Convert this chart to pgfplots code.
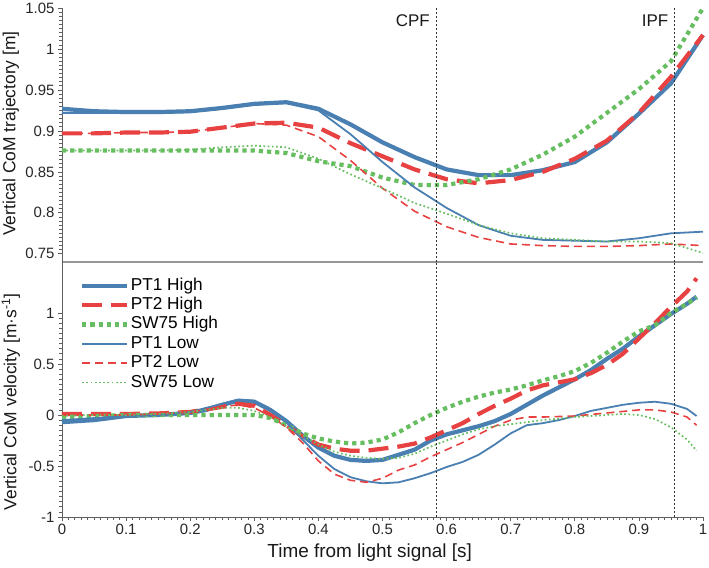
\documentclass[border=0pt]{standalone}
\usepackage{fontspec}
\setmainfont{Liberation Sans}
\usepackage{pgfplots}
\pgfplotsset{compat=1.18}
\definecolor{cb}{RGB}{74,127,178}
\definecolor{cr}{RGB}{232,65,65}
\definecolor{cg}{RGB}{103,190,96}
\definecolor{spine}{RGB}{95,95,95}
\definecolor{sep}{RGB}{150,150,150}
\pgfplotsset{
  common/.style={
    scale only axis, width=641bp,
    xmin=0, xmax=1, clip=false,
    axis y line*=left, axis x line*=bottom,
    tick align=outside,
    major tick length=4bp, minor tick length=2.5bp,
    every tick/.style={spine, line width=0.7bp},
    axis line style={spine, line width=0.8bp},
    tick label style={font=\fontsize{15}{15}\selectfont, text=black!85},
    /pgf/number format/assume math mode=true,
    label style={font=\fontsize{17.5}{19}\selectfont, text=black!90},
  },
  hiA/.style={cb, line width=4.2bp},
  hiB/.style={cr, line width=4.2bp, dash pattern=on 20bp off 9bp},
  hiC/.style={cg, line width=4.2bp, dash pattern=on 4.2bp off 4bp},
  loA/.style={cb, line width=1.8bp},
  loB/.style={cr, line width=1.6bp, dash pattern=on 8bp off 5bp},
  loC/.style={cg, line width=1.7bp, dash pattern=on 1.7bp off 2.5bp},
  refl/.style={black!80, line width=0.9bp, dash pattern=on 2bp off 2bp},
}
\begin{document}
\begin{tikzpicture}
% ---------------- top axis ----------------
\begin{axis}[common,
  at={(0bp,255bp)}, anchor=south west, height=254bp,
  ymin=0.74, ymax=1.05,
  ytick={0.75,0.8,0.85,0.9,0.95,1,1.05},
  minor y tick num=9,
  xtick=\empty,
  x axis line style={sep, line width=1.2bp},
  ylabel={Vertical CoM trajectory [m]},
  ylabel style={at={(axis description cs:-0.0796,0.506)}, anchor=center},
]
\addplot[hiA] coordinates {(0,0.927)(0.05,0.924)(0.1,0.923)(0.15,0.923)(0.2,0.924)(0.25,0.928)(0.3,0.933)(0.35,0.935)(0.4,0.927)(0.45,0.908)(0.5,0.886)(0.55,0.868)(0.6,0.853)(0.65,0.846)(0.7,0.846)(0.75,0.852)(0.8,0.862)(0.85,0.886)(0.9,0.921)(0.95,0.958)(1.0,1.017)};
\addplot[hiB] coordinates {(0,0.897)(0.05,0.897)(0.1,0.898)(0.15,0.898)(0.2,0.899)(0.25,0.904)(0.3,0.909)(0.35,0.910)(0.4,0.904)(0.45,0.885)(0.5,0.869)(0.55,0.853)(0.6,0.841)(0.65,0.836)(0.7,0.840)(0.75,0.850)(0.8,0.866)(0.85,0.888)(0.9,0.922)(0.95,0.966)(1.0,1.017)};
\addplot[hiC] coordinates {(0,0.876)(0.05,0.876)(0.1,0.876)(0.15,0.876)(0.2,0.876)(0.25,0.876)(0.3,0.876)(0.35,0.873)(0.4,0.863)(0.45,0.857)(0.5,0.843)(0.55,0.834)(0.6,0.834)(0.65,0.841)(0.7,0.853)(0.75,0.871)(0.8,0.893)(0.85,0.922)(0.9,0.951)(0.95,0.985)(1.0,1.05)};
\addplot[loA] coordinates {(0,0.922)(0.05,0.922)(0.1,0.922)(0.15,0.922)(0.2,0.923)(0.25,0.927)(0.3,0.932)(0.35,0.934)(0.4,0.925)(0.45,0.896)(0.5,0.862)(0.55,0.831)(0.6,0.806)(0.65,0.785)(0.7,0.772)(0.75,0.767)(0.8,0.766)(0.85,0.765)(0.9,0.769)(0.95,0.775)(1.0,0.777)};
\addplot[loB] coordinates {(0,0.897)(0.05,0.897)(0.1,0.898)(0.15,0.898)(0.2,0.899)(0.25,0.904)(0.3,0.909)(0.35,0.907)(0.4,0.893)(0.45,0.864)(0.5,0.830)(0.55,0.802)(0.6,0.783)(0.65,0.770)(0.7,0.762)(0.75,0.760)(0.8,0.759)(0.85,0.759)(0.9,0.760)(0.95,0.762)(1.0,0.760)};
\addplot[loC] coordinates {(0,0.876)(0.05,0.876)(0.1,0.876)(0.15,0.876)(0.2,0.877)(0.25,0.880)(0.3,0.882)(0.35,0.880)(0.4,0.866)(0.45,0.847)(0.5,0.830)(0.55,0.812)(0.6,0.799)(0.65,0.785)(0.7,0.775)(0.75,0.769)(0.8,0.767)(0.85,0.765)(0.9,0.765)(0.95,0.763)(1.0,0.751)};
\addplot[refl, forget plot] coordinates {(0.584,0.74)(0.584,1.05)};
\addplot[refl, forget plot] coordinates {(0.956,0.74)(0.956,1.05)};
\node[anchor=base east, font=\fontsize{17}{19}\selectfont, text=black!90, xshift=-3bp] at (axis cs:0.584,1.028) {CPF};
\node[anchor=base east, font=\fontsize{17}{19}\selectfont, text=black!90, xshift=-3bp] at (axis cs:0.956,1.028) {IPF};
\end{axis}
% ---------------- bottom axis ----------------
\begin{axis}[common,
  at={(0bp,0bp)}, anchor=south west, height=255bp,
  ymin=-1, ymax=1.5,
  ytick={-1,-0.5,0,0.5,1},
  minor y tick num=9,
  xtick={0,0.1,0.2,0.3,0.4,0.5,0.6,0.7,0.8,0.9,1},
  minor x tick num=9,
  ylabel={Vertical CoM velocity [m·s\textsuperscript{-1}]},
  ylabel style={at={(axis description cs:-0.0796,0.451)}, anchor=center},
  xlabel={Time from light signal [s]},
  xlabel style={at={(axis description cs:0.480,-0.141)}, anchor=center, font=\fontsize{19}{21}\selectfont},
  legend style={at={(axis description cs:0.028,0.945)}, anchor=north west, draw=none, fill=none,
    font=\fontsize{17.3}{19}\selectfont, row sep=0.6bp, inner sep=0pt,
    nodes={inner sep=1.5bp, text height=12.3bp, text depth=3.5bp}},
  legend cell align=left,
  legend image code/.code={\draw[#1] (0bp,0bp) -- (45bp,0bp);},
]
\addplot[hiA] coordinates {(0,-0.07)(0.05,-0.05)(0.1,-0.01)(0.15,0.0)(0.2,0.02)(0.225,0.05)(0.25,0.1)(0.275,0.14)(0.3,0.13)(0.325,0.05)(0.35,-0.06)(0.375,-0.2)(0.4,-0.32)(0.425,-0.4)(0.45,-0.44)(0.475,-0.45)(0.5,-0.44)(0.525,-0.39)(0.55,-0.34)(0.575,-0.25)(0.6,-0.19)(0.625,-0.15)(0.65,-0.11)(0.675,-0.06)(0.7,0.01)(0.725,0.1)(0.75,0.19)(0.775,0.27)(0.8,0.35)(0.825,0.44)(0.85,0.55)(0.875,0.65)(0.9,0.77)(0.925,0.88)(0.95,0.99)(0.975,1.09)(0.99,1.16)};
\addlegendentry{PT1 High}
\addplot[hiB] coordinates {(0,0.01)(0.05,0.01)(0.1,0.01)(0.15,0.015)(0.2,0.03)(0.25,0.08)(0.275,0.11)(0.3,0.09)(0.325,0.0)(0.35,-0.1)(0.375,-0.21)(0.4,-0.29)(0.425,-0.33)(0.45,-0.35)(0.475,-0.35)(0.5,-0.33)(0.525,-0.31)(0.55,-0.28)(0.575,-0.22)(0.6,-0.15)(0.625,-0.08)(0.65,0.01)(0.675,0.09)(0.7,0.16)(0.725,0.24)(0.75,0.29)(0.775,0.32)(0.8,0.35)(0.825,0.41)(0.85,0.49)(0.875,0.6)(0.9,0.75)(0.925,0.9)(0.95,1.06)(0.975,1.21)(0.99,1.34)};
\addlegendentry{PT2 High}
\addplot[hiC] coordinates {(0,-0.02)(0.05,-0.01)(0.1,0.0)(0.15,0.0)(0.2,0.0)(0.25,0.0)(0.3,0.0)(0.325,-0.03)(0.35,-0.1)(0.375,-0.18)(0.4,-0.23)(0.425,-0.26)(0.45,-0.28)(0.475,-0.27)(0.5,-0.24)(0.525,-0.17)(0.55,-0.08)(0.575,0.0)(0.6,0.07)(0.625,0.13)(0.65,0.18)(0.675,0.22)(0.7,0.25)(0.725,0.29)(0.75,0.34)(0.775,0.38)(0.8,0.43)(0.825,0.51)(0.85,0.61)(0.875,0.72)(0.9,0.82)(0.925,0.88)(0.95,1.0)(0.975,1.09)(0.99,1.15)};
\addlegendentry{SW75 High}
\addplot[loA] coordinates {(0,-0.05)(0.05,-0.03)(0.1,-0.01)(0.15,0.0)(0.2,0.03)(0.25,0.11)(0.275,0.15)(0.3,0.14)(0.325,0.05)(0.35,-0.07)(0.375,-0.24)(0.4,-0.4)(0.425,-0.53)(0.45,-0.61)(0.475,-0.65)(0.5,-0.67)(0.525,-0.66)(0.55,-0.62)(0.575,-0.57)(0.6,-0.51)(0.625,-0.46)(0.65,-0.39)(0.675,-0.29)(0.7,-0.18)(0.725,-0.1)(0.75,-0.08)(0.775,-0.05)(0.8,-0.01)(0.825,0.04)(0.85,0.07)(0.875,0.1)(0.9,0.12)(0.925,0.13)(0.95,0.11)(0.975,0.06)(0.99,-0.01)};
\addlegendentry{PT1 Low}
\addplot[loB] coordinates {(0,0.0)(0.05,0.0)(0.1,0.0)(0.15,0.01)(0.2,0.03)(0.25,0.08)(0.275,0.1)(0.3,0.07)(0.325,-0.01)(0.35,-0.12)(0.375,-0.27)(0.4,-0.45)(0.425,-0.58)(0.45,-0.64)(0.475,-0.66)(0.5,-0.62)(0.525,-0.54)(0.55,-0.49)(0.575,-0.41)(0.6,-0.34)(0.625,-0.27)(0.65,-0.19)(0.675,-0.11)(0.7,-0.05)(0.725,-0.02)(0.75,-0.02)(0.8,-0.01)(0.85,0.02)(0.9,0.05)(0.925,0.05)(0.95,0.03)(0.975,-0.02)(0.99,-0.1)};
\addlegendentry{PT2 Low}
\addplot[loC] coordinates {(0,-0.01)(0.05,0.0)(0.1,0.0)(0.15,0.01)(0.2,0.03)(0.225,0.05)(0.25,0.07)(0.275,0.07)(0.3,0.04)(0.325,-0.02)(0.35,-0.11)(0.375,-0.2)(0.4,-0.29)(0.425,-0.36)(0.45,-0.4)(0.475,-0.42)(0.5,-0.43)(0.525,-0.42)(0.55,-0.38)(0.575,-0.31)(0.6,-0.25)(0.625,-0.19)(0.65,-0.14)(0.675,-0.11)(0.7,-0.09)(0.75,-0.05)(0.8,-0.02)(0.85,0.0)(0.875,0.01)(0.9,0.0)(0.925,-0.04)(0.95,-0.12)(0.975,-0.24)(0.99,-0.35)};
\addlegendentry{SW75 Low}
\addplot[refl, forget plot] coordinates {(0.584,-1)(0.584,1.5)};
\addplot[refl, forget plot] coordinates {(0.956,-1)(0.956,1.5)};
\end{axis}
\pgfresetboundingbox
\useasboundingbox (-62bp,-51bp) rectangle (647bp,517bp);
\end{tikzpicture}
\end{document}
